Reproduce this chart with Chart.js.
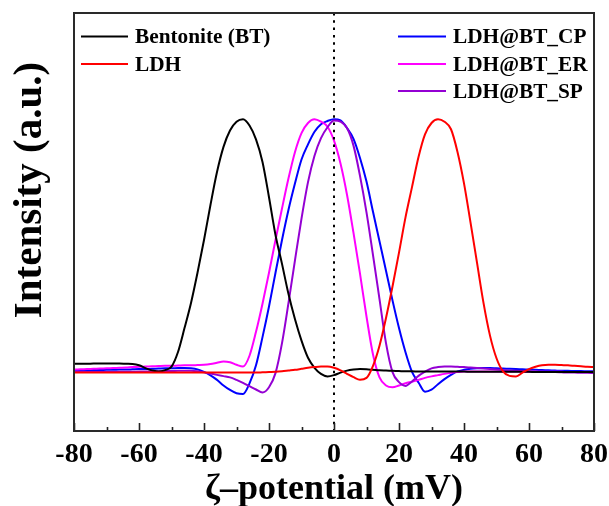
<!DOCTYPE html>
<html>
<head>
<meta charset="utf-8">
<script src="https://cdn.jsdelivr.net/npm/chart.js@4.4.1/dist/chart.umd.min.js"></script>
<style>
  html, body { margin: 0; padding: 0; background: #fff; }
  #wrap { width: 609px; height: 506px; }
</style>
</head>
<body>
<div id="wrap"><canvas id="c" width="609" height="506"></canvas></div>
<script>
// ζ-potential sample positions (mV)
const zeta = [-80,-78,-76,-74,-72,-70,-68,-66,-64,-62,-60,-58,-56,-54,-52,-50,-48,-46,-44,-42,-40,-38,-36,-34,-32,-30,-28,-26,-24,-22,-20,-18,-16,-14,-12,-10,-8,-6,-4,-2,0,2,4,6,8,10,12,14,16,18,20,22,24,26,28,30,32,34,36,38,40,42,44,46,48,50,52,54,56,58,60,62,64,66,68,70,72,74,76,78,80];

const seriesLabels = ['Bentonite (BT)', 'LDH', 'LDH@BT_CP', 'LDH@BT_ER', 'LDH@BT_SP'];
const seriesColors = ['#000000', '#ff0000', '#0000ff', '#ff00ff', '#9400d3'];
const xTitle = 'ζ–potential (mV)';
const yTitle = 'Intensity (a.u.)';

const bentonite = [0.028,0.028,0.028,0.029,0.029,0.029,0.029,0.029,0.028,0.027,0.022,0.011,0.002,-0.003,0.003,0.017,0.075,0.17,0.27,0.39,0.52,0.66,0.79,0.89,0.955,0.99,1.0,0.975,0.92,0.83,0.69,0.54,0.425,0.305,0.205,0.12,0.052,0.012,-0.012,-0.022,-0.017,-0.007,0.001,0.005,0.007,0.006,0.004,0.002,0.001,0.0,-0.001,-0.002,-0.002,-0.003,-0.003,-0.003,-0.003,-0.003,-0.003,-0.003,-0.003,-0.004,-0.004,-0.004,-0.004,-0.004,-0.004,-0.004,-0.004,-0.004,-0.004,-0.005,-0.005,-0.005,-0.005,-0.005,-0.005,-0.005,-0.005,-0.005,-0.005];

const ldh = [-0.007,-0.007,-0.007,-0.007,-0.007,-0.007,-0.007,-0.007,-0.007,-0.007,-0.007,-0.007,-0.007,-0.007,-0.007,-0.007,-0.007,-0.007,-0.007,-0.007,-0.007,-0.007,-0.007,-0.007,-0.007,-0.007,-0.007,-0.007,-0.007,-0.006,-0.005,-0.004,-0.002,0.001,0.004,0.008,0.012,0.015,0.017,0.017,0.012,0.002,-0.012,-0.025,-0.035,-0.028,0.02,0.10,0.21,0.335,0.47,0.61,0.73,0.85,0.94,0.985,1.0,0.99,0.96,0.87,0.745,0.59,0.43,0.27,0.14,0.05,-0.002,-0.02,-0.022,-0.007,0.007,0.016,0.022,0.024,0.024,0.023,0.022,0.02,0.018,0.016,0.015];

const ldhBtCp = [0.001,0.002,0.002,0.003,0.003,0.004,0.004,0.005,0.005,0.006,0.007,0.007,0.008,0.009,0.010,0.010,0.011,0.011,0.010,0.006,-0.004,-0.018,-0.036,-0.058,-0.076,-0.089,-0.092,-0.05,0.022,0.134,0.256,0.39,0.52,0.64,0.745,0.84,0.90,0.95,0.98,0.993,1.0,0.995,0.965,0.922,0.846,0.752,0.632,0.515,0.398,0.28,0.17,0.074,-0.004,-0.046,-0.083,-0.075,-0.053,-0.033,-0.016,-0.002,0.004,0.008,0.01,0.011,0.011,0.01,0.009,0.008,0.007,0.006,0.005,0.004,0.003,0.002,0.001,0.0,0.0,-0.001,-0.001,-0.002,-0.002];

const ldhBtEr = [0.005,0.006,0.007,0.008,0.009,0.010,0.011,0.012,0.013,0.015,0.016,0.017,0.018,0.019,0.020,0.020,0.021,0.022,0.022,0.023,0.024,0.027,0.032,0.037,0.034,0.024,0.017,0.06,0.155,0.267,0.39,0.52,0.645,0.765,0.87,0.945,0.985,1.0,0.99,0.97,0.915,0.824,0.70,0.548,0.386,0.216,0.065,-0.026,-0.058,-0.065,-0.058,-0.049,-0.043,-0.036,-0.028,-0.022,-0.017,-0.012,-0.008,-0.005,-0.003,-0.003,-0.003,-0.003,-0.003,-0.003,-0.003,-0.003,-0.003,-0.003,-0.004,-0.004,-0.004,-0.004,-0.004,-0.004,-0.005,-0.005,-0.005,-0.005,-0.005];

const ldhBtSp = [-0.005,-0.005,-0.005,-0.005,-0.005,-0.005,-0.005,-0.004,-0.004,-0.004,-0.003,-0.003,-0.002,-0.002,-0.001,-0.001,0.0,0.0,0.0,-0.002,-0.006,-0.011,-0.016,-0.021,-0.026,-0.036,-0.048,-0.061,-0.074,-0.086,-0.065,-0.009,0.11,0.27,0.44,0.605,0.75,0.855,0.925,0.968,0.995,0.99,0.965,0.895,0.775,0.63,0.46,0.285,0.11,-0.005,-0.045,-0.06,-0.042,-0.02,-0.003,0.01,0.015,0.017,0.017,0.016,0.015,0.013,0.011,0.009,0.007,0.005,0.003,0.001,0.0,-0.001,-0.002,-0.003,-0.004,-0.005,-0.005,-0.006,-0.007,-0.007,-0.008,-0.008,-0.009];

const xTicks = [-80,-60,-40,-20,0,20,40,60,80];
const xMinorTicks = [-70,-50,-30,-10,10,30,50,70];
const refLineX = 0;

const seriesValues = [bentonite, ldh, ldhBtCp, ldhBtEr, ldhBtSp];
const drawOrder = [1, 0, 4, 3, 2];

const SERIF = '"Liberation Serif", "Times New Roman", serif';

const datasets = seriesValues.map((vals, k) => ({
  label: seriesLabels[k],
  data: zeta.map((x, i) => ({ x: x, y: vals[i] })),
  borderColor: seriesColors[k],
  backgroundColor: seriesColors[k],
  borderWidth: 2,
  pointRadius: 0,
  fill: false,
  cubicInterpolationMode: 'monotone',
  order: drawOrder[k]
}));

const decorPlugin = {
  id: 'decor',
  afterDatasetsDraw(chart) {
    const ctx = chart.ctx;
    const a = chart.chartArea;
    const xs = chart.scales.x;
    ctx.save();
    // dotted reference line at 0
    const x0 = xs.getPixelForValue(refLineX);
    ctx.strokeStyle = '#000';
    ctx.lineWidth = 2;
    ctx.setLineDash([2.5, 4.8]);
    ctx.beginPath();
    ctx.moveTo(x0, a.top);
    ctx.lineTo(x0, a.bottom);
    ctx.stroke();
    ctx.setLineDash([]);
    // inward ticks on bottom axis
    ctx.strokeStyle = '#222';
    ctx.lineWidth = 1.6;
    ctx.beginPath();
    xTicks.forEach(v => {
      const px = Math.round(xs.getPixelForValue(v)) + 0.5;
      ctx.moveTo(px, a.bottom);
      ctx.lineTo(px, a.bottom - 8);
    });
    xMinorTicks.forEach(v => {
      const px = Math.round(xs.getPixelForValue(v)) + 0.5;
      ctx.moveTo(px, a.bottom);
      ctx.lineTo(px, a.bottom - 4);
    });
    ctx.stroke();
    // frame
    ctx.strokeStyle = '#2a2a2a';
    ctx.lineWidth = 2;
    ctx.strokeRect(a.left, a.top, a.right - a.left, a.bottom - a.top);
    ctx.restore();
  },
  afterDraw(chart) {
    const ctx = chart.ctx;
    const ds = chart.data.datasets;
    const cols = [
      { idx: [0, 1], lineX: 81, lineLen: 47, textX: 135 },
      { idx: [2, 3, 4], lineX: 398, lineLen: 48, textX: 453 }
    ];
    const rowY = [36.5, 64, 91];
    ctx.save();
    ctx.font = 'bold 21.3px ' + SERIF;
    ctx.textBaseline = 'middle';
    ctx.textAlign = 'left';
    cols.forEach(col => {
      col.idx.forEach((di, r) => {
        const y = rowY[r];
        ctx.strokeStyle = ds[di].borderColor;
        ctx.lineWidth = 2;
        ctx.beginPath();
        ctx.moveTo(col.lineX, y);
        ctx.lineTo(col.lineX + col.lineLen, y);
        ctx.stroke();
        ctx.fillStyle = '#000';
        ctx.fillText(ds[di].label, col.textX, y + 1);
      });
    });
    // y-axis title (positioned like the reference, above the plot centre)
    ctx.translate(30, 190);
    ctx.rotate(-Math.PI / 2);
    ctx.font = 'bold 41px ' + SERIF;
    ctx.textAlign = 'center';
    ctx.textBaseline = 'middle';
    ctx.fillStyle = '#000';
    ctx.fillText(yTitle, 0, 0);
    ctx.restore();
  }
};

new Chart(document.getElementById('c'), {
  type: 'line',
  data: { datasets: datasets },
  options: {
    responsive: false,
    animation: false,
    events: [],
    layout: { padding: { top: 13, right: 15, left: 0, bottom: 0 } },
    plugins: { legend: { display: false }, tooltip: { enabled: false } },
    scales: {
      x: {
        type: 'linear',
        min: -80,
        max: 80,
        afterBuildTicks: s => { s.ticks = xTicks.map(v => ({ value: v })); },
        afterFit: s => { s.height = 75; s.paddingLeft = 0; s.paddingRight = 0; },
        grid: { display: false, drawTicks: false },
        border: { display: false },
        ticks: {
          color: '#000',
          padding: 7,
          maxRotation: 0,
          autoSkip: false,
          font: { family: SERIF, size: 28, weight: 'bold' },
          callback: v => String(v)
        },
        title: {
          display: true,
          text: xTitle,
          color: '#000',
          font: { family: SERIF, size: 36, weight: 'bold', lineHeight: 1 },
          padding: { top: 0, bottom: -2 }
        }
      },
      y: {
        type: 'linear',
        min: -0.239,
        max: 1.422,
        afterFit: s => { s.width = 74; },
        grid: { display: false, drawTicks: false },
        border: { display: false },
        ticks: { display: false },
        title: { display: false }
      }
    }
  },
  plugins: [decorPlugin]
});
</script>
</body>
</html>
